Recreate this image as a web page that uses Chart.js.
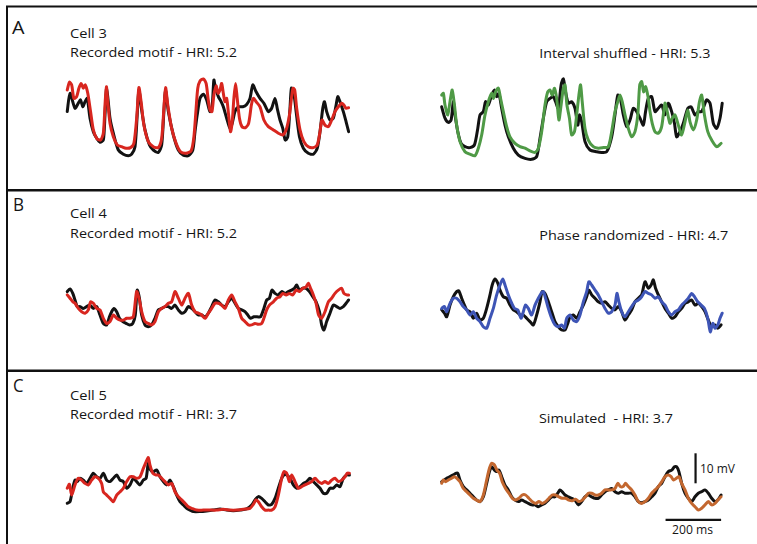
<!DOCTYPE html>
<html>
<head>
<meta charset="utf-8">
<script src="https://cdn.jsdelivr.net/npm/chart.js@4.4.1/dist/chart.umd.min.js"></script>
<style>
  html,body{margin:0;padding:0;background:#fff;}
  #fig{position:relative;width:757px;height:544px;overflow:hidden;background:#fff;}
  #fig svg{position:absolute;left:0;top:0;}
  .pane{position:absolute;}
  .lbl{font-family:"Open Sans",Lato,sans-serif;font-size:13.5px;fill:#151515;}
  .big{font-family:"Open Sans",Lato,sans-serif;font-size:17.5px;fill:#151515;}
  .sc{font-family:"Open Sans",Lato,sans-serif;font-size:12px;fill:#151515;}
</style>
</head>
<body>
<div id="fig">
  <svg width="757" height="544" xmlns="http://www.w3.org/2000/svg">
    <line x1="6" y1="6.5" x2="757" y2="6.5" stroke="#111" stroke-width="2"/>
    <line x1="7" y1="6" x2="7" y2="544" stroke="#111" stroke-width="2"/>
    <line x1="6" y1="190.3" x2="757" y2="190.3" stroke="#111" stroke-width="2.5"/>
    <line x1="6" y1="370.8" x2="757" y2="370.8" stroke="#111" stroke-width="2.5"/>
    <text class="big" x="12" y="33.5" textLength="12.5" lengthAdjust="spacingAndGlyphs">A</text>
    <text class="lbl" x="70" y="37.7" textLength="37" lengthAdjust="spacingAndGlyphs">Cell 3</text>
    <text class="lbl" x="70" y="57.3" textLength="167" lengthAdjust="spacingAndGlyphs">Recorded motif - HRI: 5.2</text>
    <text class="lbl" x="539.3" y="58" textLength="171" lengthAdjust="spacingAndGlyphs">Interval shuffled - HRI: 5.3</text>
    <text class="big" x="13" y="210.7" textLength="11" lengthAdjust="spacingAndGlyphs">B</text>
    <text class="lbl" x="70" y="218.3" textLength="37" lengthAdjust="spacingAndGlyphs">Cell 4</text>
    <text class="lbl" x="70" y="238" textLength="167" lengthAdjust="spacingAndGlyphs">Recorded motif - HRI: 5.2</text>
    <text class="lbl" x="539.3" y="240" textLength="189" lengthAdjust="spacingAndGlyphs">Phase randomized - HRI: 4.7</text>
    <text class="big" x="13" y="392.3" textLength="10.5" lengthAdjust="spacingAndGlyphs">C</text>
    <text class="lbl" x="70" y="400" textLength="37" lengthAdjust="spacingAndGlyphs">Cell 5</text>
    <text class="lbl" x="70" y="419.3" textLength="167" lengthAdjust="spacingAndGlyphs">Recorded motif - HRI: 3.7</text>
    <text class="lbl" x="539" y="423" xml:space="preserve" style="white-space:pre" textLength="134" lengthAdjust="spacingAndGlyphs">Simulated  - HRI: 3.7</text>
    <text class="sc" x="700" y="472.5" textLength="35" lengthAdjust="spacingAndGlyphs">10 mV</text>
    <text class="sc" x="672" y="533.5" textLength="41" lengthAdjust="spacingAndGlyphs">200 ms</text>
  </svg>
  <div class="pane" style="left:60px;top:65px;width:300px;height:100px"><canvas id="cAL" width="300" height="100"></canvas></div>
  <div class="pane" style="left:435px;top:65px;width:300px;height:100px"><canvas id="cAR" width="300" height="100"></canvas></div>
  <div class="pane" style="left:60px;top:275px;width:300px;height:70px"><canvas id="cBL" width="300" height="70"></canvas></div>
  <div class="pane" style="left:435px;top:265px;width:300px;height:80px"><canvas id="cBR" width="300" height="80"></canvas></div>
  <div class="pane" style="left:60px;top:445px;width:300px;height:75px"><canvas id="cCL" width="300" height="75"></canvas></div>
  <div class="pane" style="left:435px;top:440px;width:300px;height:100px"><canvas id="cCR" width="300" height="100"></canvas></div>
</div>
<script>
// ===== DATA (time in ms, membrane potential in mV, relative) =====
// Panel A, Cell 3 — recorded motif (black) vs recorded motif replay (red)
const aLeftBlackT = [2,12,30,42,50,58,66,74,84,96,108,120,132,138,144,156,168,186,204,222,234,246,254,260,270,282,298,312,330,342,350,356,366,384,402,420,438,454,462,470,480,492,504,516,524,530,536,546,556,564,576,588,596,606,618,634,648,660,670,682,696,710,726,738,750,758,768,778,787,796,804,809,816,826,838,852,870,888,902,912,922,928,936,948,960,970,976,984,996,1006,1015];
const aLeftBlackV = [17.8,23.9,18.9,20.6,21.7,19.4,21.1,22.2,15.6,11.1,8.9,7.6,8.3,16.7,25.6,15.6,10.6,5,3.6,3.1,3.6,6.1,16.7,25,18.3,11.7,6.7,5,4.2,6.7,17.8,25,17.8,10,5,3.3,3.1,5,11.1,16.7,22.2,23.6,21.7,17.8,20,28.3,25.6,22.8,21.1,19.4,15.6,12.2,13.9,17.8,19.4,19.4,20.2,22.2,26.7,24.4,22.2,20.6,17.8,18.9,22.2,18.9,15,12.2,8.3,9.4,18.9,25.6,25,17.8,9.4,5.6,3.9,3.6,5.6,11.1,18.9,21.1,17.8,15,15.6,20,22.8,21.1,17.8,14.4,11.1];
const aLeftRedT = [2,10,18,26,36,44,52,60,67,76,86,96,108,122,132,138,143,148,156,168,182,198,214,230,242,252,260,268,278,294,312,330,342,350,356,364,378,394,410,430,448,458,466,472,480,492,502,509,516,523,530,538,545,552,558,564,570,576,583,590,596,602,608,614,622,631,643,655,665,672,682,696,710,726,744,762,778,790,802,810,815,821,828,840,854,870,888,902,912,919,930,942,954,966,978,990,998,1006,1015];
const aLeftRedV = [25,27.6,26.7,22.2,22.8,25.6,27.2,25.6,26.7,23.9,17.8,11.7,8.9,8.3,10.6,20,26.1,21.1,13.9,9.4,6.7,6.1,5.6,5.8,7.2,15.6,25.8,21.1,13.3,7.8,6.1,5.8,8.9,18.9,25.8,20,12.2,7.2,4.4,3.9,4.7,9.4,18.9,25.6,28,28.7,27.2,22.2,18.3,17.8,23.3,26.4,23.9,25,27.2,23.9,21.1,22.2,16.7,11.1,14.4,22.2,27.2,22.2,15.6,12.8,12.4,13.9,20,22.2,21.1,19.4,15,12.8,11.7,10.6,10,11.7,16.7,22.8,25.6,25,18.9,11.7,7.8,6.1,5.8,6.7,11.1,15,13.3,12.8,15,17.8,19.4,20.6,20,18.9,19.1];
// Panel A — interval shuffled (green)
const aRightBlackT = [0,12,24,34,42,48,58,70,84,102,118,130,138,150,158,168,180,190,198,206,216,228,240,258,276,300,324,342,354,366,378,390,402,410,420,430,438,446,456,468,480,490,496,504,516,534,558,576,594,612,624,634,643,654,666,678,690,702,714,726,734,744,756,768,780,792,804,816,828,838,846,858,870,886,898,912,924,936,954,966,978,990,1002,1010];
const aRightBlackV = [19.4,15.6,14.2,15,21.1,16.7,11.1,7.2,6.1,5.8,6.7,12.2,16.7,17.8,21.1,20,23.3,25,22.8,23.9,18.9,13.3,9.4,5.6,3.3,2.2,1.9,2.8,8.9,15.6,21.1,22.2,22.8,21.1,18.9,26.7,28.7,24.4,20.6,21.1,18.9,13.3,16.7,14.4,7.8,5,4.4,4.2,4.4,9.4,16.7,23.3,22.2,16.7,12.8,15,18.9,17.8,15.6,13.3,17.8,22.2,22.8,17.8,18.9,20,16.7,20.6,17.8,13.9,9.4,11.1,13.9,18.9,19.4,16.7,17.8,17.8,21.7,20.6,13.9,12.2,15.6,20.6];
const aRightGreenT = [0,6,12,22,30,38,46,54,66,84,102,120,132,144,156,168,180,187,194,204,212,222,234,246,264,282,300,318,336,348,360,372,382,390,398,406,414,422,430,438,444,451,460,468,478,486,494,500,506,516,528,546,564,582,600,612,624,634,642,650,660,672,684,696,706,713,720,727,734,744,750,758,768,780,792,804,812,822,830,840,852,864,876,886,894,906,918,928,936,946,958,972,990,1006];
const aRightGreenV = [23.3,23.9,20,16.7,21.1,25,20,13.3,7.8,4.4,3.6,3.1,5.6,10,16.7,21.1,23.9,22.2,24.4,25.6,22.2,17.8,12.8,9.4,7.2,6.1,5.6,4.7,4.2,5.6,11.1,20,24.4,25,23.3,25.6,22.2,15,20,25.6,26.7,20,15.6,10,11.1,16.7,23.3,26.7,21.1,12.2,8.3,6.1,5.6,5.8,6.1,11.1,17.8,21.1,23.3,21.1,16.7,12.2,9.4,11.1,16.7,26.7,27.8,24.4,26.1,22.2,17.8,13.9,11.1,10.6,12.8,20.6,17.8,13.9,15.6,16.7,13.3,10,14.4,18.3,14.4,11.7,15,21.1,23.3,16.7,11.1,8.3,6.1,7.2];
// Panel B, Cell 4
const bLeftBlackT = [2,12,22,30,38,48,60,72,84,96,108,120,132,144,154,162,170,180,190,202,214,226,238,247,254,262,270,282,294,306,318,330,342,354,366,378,390,402,414,426,438,450,462,474,486,498,510,522,534,546,558,570,582,594,606,618,630,642,652,662,674,686,698,710,720,730,739,750,762,774,786,798,810,820,828,838,850,862,874,886,898,910,918,926,936,948,960,972,984,996,1006,1015];
const bLeftBlackV = [17.8,18.7,17.2,15,12.8,12.8,12.2,12.8,13.3,12.2,12.8,10,7.2,6.7,9.4,11.1,12.2,11.1,8.9,7.8,7.2,6.7,7.2,10,18.3,15.6,10,6.7,6.1,6.7,8.9,11.7,12.2,12.8,12.8,12.2,13.3,11.7,10.6,11.1,12.8,12.2,11.1,10,10,9.4,10.6,12.8,15,14.4,13.3,12.8,14.4,15.6,13.9,12.2,11.7,11.1,10,8.9,9.4,9.4,9.4,12.2,15,15.6,18.3,17.2,16.7,17.8,17.2,17.8,18.3,18.9,20,18.3,18.9,18.9,17.8,16.1,14.4,11.1,6.7,5,7.8,10.6,13.3,12.8,12.2,12.8,13.9,15];
const bLeftRedT = [2,12,22,30,42,54,66,78,86,96,108,120,132,144,156,168,180,192,204,216,228,240,252,262,270,282,294,306,318,330,342,354,366,378,390,402,414,426,438,450,462,474,486,498,510,522,534,546,558,570,582,594,606,618,630,642,654,666,678,690,702,710,720,730,744,756,768,778,790,802,814,826,838,850,862,870,878,888,898,907,918,930,942,954,966,978,990,998,1008,1015];
const bLeftRedV = [16.7,15.6,14.4,13.9,12.2,11.1,10.6,11.7,14.4,13.9,12.2,11.7,8.9,7.2,7.8,10,8.9,8.3,8.3,8.9,8.9,9.4,17.8,15,11.1,7.8,7.2,6.7,7.8,11.1,12.2,12.8,13.9,14.4,17.8,15.6,13.3,15.6,17.2,13.3,11.1,10.6,10,8.9,10.6,12.2,13.9,13.9,13.3,12.2,15,16.7,14.4,12.2,8.9,7.8,6.7,6.7,7.2,6.9,7.2,8.9,11.7,13.3,14.4,15.6,16.1,17.2,16.7,17.2,16.7,18.3,17.8,18.9,19.4,20.6,18.9,16.7,13.9,10,8.9,11.1,14.4,15.6,17.2,18.3,18.9,17.2,16.7,16.7];
const bRightBlackT = [0,10,18,30,42,54,62,72,82,90,102,114,126,138,150,162,174,182,192,202,210,222,234,246,258,270,282,294,306,318,330,342,354,362,372,384,396,408,420,432,444,454,462,474,486,498,510,522,530,540,552,564,576,588,600,612,624,636,648,660,672,684,696,708,720,732,744,754,762,770,780,792,804,816,828,840,852,864,876,888,900,912,924,936,948,960,972,984,994,1006];
const bRightBlackV = [11.7,10.6,9.4,13.3,16.1,17.8,18,15.6,13.3,11.7,11.1,8.9,10.6,8.3,8.9,12.2,16.7,20,22,20.6,18.3,16.1,15.6,13.3,11.7,11.1,10,10,8.9,7.8,6.7,10,14.4,17.8,17.2,14.4,11.1,7.8,6.1,5,5,7.2,9.4,10,8.9,11.1,13.3,16.1,18.3,16.7,15.6,14.4,13.9,14.4,13.3,12.2,11.7,12.8,11.1,8.3,10,11.7,14.4,15.6,16.7,21.1,18.9,20,21.7,18.9,16.7,14.4,12.2,10.6,8.9,9.4,11.1,12.2,13.9,14.4,15,13.3,13.9,12.8,11.1,8.3,6.1,6.7,5.6,6.7];
const bRightBlueT = [0,10,18,30,42,54,66,78,90,102,114,126,138,150,162,174,186,198,210,220,228,238,250,262,274,286,294,302,312,324,336,348,358,366,374,384,396,408,420,432,442,450,462,474,486,498,510,522,530,540,552,564,576,588,600,612,624,631,638,648,660,672,684,696,708,720,732,744,756,768,780,792,804,816,828,840,852,864,876,888,900,910,922,934,946,958,967,976,984,994,1002,1010];
const bRightBlueV = [12.2,12.8,11.1,13.9,15.6,15.6,14.4,12.8,11.7,10,11.1,8.9,7.8,6.1,5.6,8.9,12.2,16.7,20,22,20,17.2,14.4,12.2,11.7,8.9,11.1,13.3,12.2,10,13.3,15.6,17.2,17.8,15.6,12.2,8.9,6.7,6.1,6.7,5.6,8.9,10,8.3,7.8,10,14.4,17.8,21.1,20,18.3,16.7,14.4,12.2,10.6,11.1,13.3,17.2,14.4,11.1,9.4,11.1,12.8,14.4,15,16.1,17.8,17.2,16.7,15.6,16.1,14.4,13.3,11.1,10,11.1,11.7,13.3,14.4,15.6,17.2,16.1,14.4,13.3,12.2,8.9,4.4,7.2,5.6,6.7,8.9,10.6];
// Panel C, Cell 5
const cLeftBlackT = [2,12,22,30,38,48,60,72,84,96,108,120,132,144,156,168,180,192,204,216,228,240,252,264,276,286,294,302,312,324,336,348,360,372,384,396,408,420,432,444,456,480,504,528,552,576,600,624,648,666,678,690,702,714,726,738,750,762,774,782,792,804,816,828,840,852,864,876,888,900,912,924,936,948,960,972,984,996,1008,1018];
const cLeftBlackV = [5.6,6.1,10.6,13.3,12.8,13.9,13.3,12.2,13.9,15.6,14.4,13.9,15.6,13.3,12.8,13.9,15,13.3,12.8,10.6,11.7,13.9,12.8,11.7,13.3,13.9,18.9,16.7,16.1,16.7,14.4,12.8,11.7,13.3,11.1,8.3,6.1,5,3.9,3.3,2.8,2.8,3,3.3,3.7,3.3,3.1,3.3,3.7,5,6.7,7.8,7.2,6.1,5,5.2,7.2,10.6,13.9,15,15,13.9,11.7,10.6,11.1,12.2,12.8,13.9,12.8,11.7,10.6,8.9,8.9,10.6,10.6,11.7,11.1,13.9,15,15];
const cLeftRedT = [2,10,18,30,42,54,66,78,90,102,114,126,132,144,156,168,180,192,204,216,228,240,252,264,276,286,294,300,310,322,330,342,354,366,378,390,402,414,426,438,450,468,492,516,540,564,588,612,636,660,672,682,690,702,714,726,738,750,762,774,782,792,802,810,822,834,846,858,870,882,894,906,918,930,942,954,966,978,990,1002,1010,1018];
const cLeftRedV = [10.6,11.9,8.3,11.7,13.9,13.3,12.2,11.7,13.3,14.4,13.9,12.2,9.4,8.3,7.2,6.1,8.3,9.4,10.6,12.8,14.4,14.4,13.9,14.4,17.2,19.4,20.8,18.3,15.6,15,15,13.9,12.8,11.7,12.2,9.4,7.8,6.7,5.6,4.4,3.9,3.3,3.3,3.3,3.3,3.6,3.3,3.3,3.6,3.9,5.2,6.7,6.1,4.4,3.3,3.3,3.3,4.4,8.3,13.9,16.1,15.6,12.8,15,12.8,10.6,11.1,11.7,12.2,12.8,13.9,12.8,12.2,12.8,12.2,13.3,13.9,12.8,13.3,14.4,15.6,15.6];
const cRightBlackT = [0,10,18,30,42,50,58,66,78,90,102,114,126,138,150,162,172,180,190,198,206,216,228,240,252,264,276,288,300,312,324,336,348,360,372,384,396,408,418,426,434,444,456,468,480,492,504,516,528,540,552,564,576,588,600,612,624,636,648,660,672,684,696,708,720,732,744,756,768,780,792,804,816,828,838,846,854,864,876,888,900,912,924,936,948,960,972,984,994,1006];
const cRightBlackV = [19.4,20,20.6,21.1,21.7,22.2,22.2,20,17.8,16.7,15.6,14.4,13.3,12.8,14.4,18.9,22.8,24.4,23.3,22.8,23.3,21.1,18.3,16.7,14.4,13.3,12.8,13.3,12.8,12.2,11.7,11.7,11.1,11.7,12.2,13.3,14.4,14.4,15.6,16.7,16.1,15,14.4,13.9,13.3,11.7,12.8,14.4,15,14.4,13.9,13.9,15,16.1,16.7,17.2,16.1,15.6,16.1,15.6,15.6,15.6,14.4,12.8,12.4,12.8,13.3,14.4,15.6,17.8,18.9,21.1,22.8,23.3,24.4,24.4,22.8,18.9,15.6,13.9,12.8,14.4,15.6,16.1,16.7,15.6,13.9,12.8,13.3,15];
const cRightOrangeT = [0,6,14,24,36,46,54,66,78,90,102,114,126,138,150,162,172,180,190,199,209,218,230,242,254,266,278,290,302,314,326,338,350,362,374,386,398,410,422,434,446,458,470,482,494,506,518,528,540,552,564,576,588,600,612,624,634,643,653,662,672,684,696,708,720,732,744,756,768,780,792,804,816,826,835,845,854,864,876,888,900,912,924,936,948,960,972,984,994,1006];
const cRightOrangeV = [18.9,20,19.4,20,20.6,21.1,20.6,19.4,17.2,16.1,15,13.9,13.3,12.8,15,20,23.9,25.6,25,23.3,22.2,19.4,17.2,15.6,13.9,13.3,13.9,15,15,13.9,12.8,12.2,12.8,12.2,12.8,13.9,15,15,14.4,13.9,13.9,13.3,13.1,13.6,12.8,13.3,14.4,15.6,15.6,15,15,15.6,16.7,16.7,16.7,17.2,18.9,17.8,17.8,18.9,17.8,16.7,15,12.8,12.2,12.8,13.9,15.6,16.7,17.8,19.4,21.1,21.7,21.1,20,20.6,21.1,18.9,16.7,13.9,12.2,11.1,10,10.6,11.7,12.8,11.7,12.2,13.3,14.4];
// Scale bars: 10 mV and 200 ms
const scaleMvT = [914, 914];
const scaleMvV = [18.9, 28.9];
const scaleMsT = [806, 1006];
const scaleMsV = [6.7, 6.7];

// ===== STYLE =====
const BLACK = '#121212', RED = '#d8261f', GREEN = '#4f9a46', BLUE = '#3e55b6', ORANGE = '#c3672f';
const T_MIN = -24, T_MAX = 1056;

function pts(t, v) { return t.map((x, i) => ({x: x, y: v[i]})); }
function trace(t, v, color, order, width) {
  return {data: pts(t, v), borderColor: color, backgroundColor: color, order: order,
          borderWidth: width || 3, pointRadius: 0, tension: 0.25, clip: false, fill: false,
          borderJoinStyle: 'round', borderCapStyle: 'round'};
}
function panel(id, yMax, datasets) {
  new Chart(document.getElementById(id), {
    type: 'line',
    data: {datasets: datasets},
    options: {
      responsive: false, animation: false, events: [],
      layout: {padding: 0},
      plugins: {legend: {display: false}, tooltip: {enabled: false}, title: {display: false}},
      scales: {
        x: {type: 'linear', min: T_MIN, max: T_MAX, display: false},
        y: {type: 'linear', min: 0, max: yMax, display: false}
      }
    }
  });
}

panel('cAL', 100/3, [trace(aLeftRedT, aLeftRedV, RED, 0), trace(aLeftBlackT, aLeftBlackV, BLACK, 1)]);
panel('cAR', 100/3, [trace(aRightGreenT, aRightGreenV, GREEN, 0), trace(aRightBlackT, aRightBlackV, BLACK, 1)]);
panel('cBL', 70/3, [trace(bLeftRedT, bLeftRedV, RED, 0), trace(bLeftBlackT, bLeftBlackV, BLACK, 1)]);
panel('cBR', 80/3, [trace(bRightBlueT, bRightBlueV, BLUE, 0), trace(bRightBlackT, bRightBlackV, BLACK, 1)]);
panel('cCL', 75/3, [trace(cLeftRedT, cLeftRedV, RED, 0), trace(cLeftBlackT, cLeftBlackV, BLACK, 1)]);
panel('cCR', 100/3, [
  trace(cRightOrangeT, cRightOrangeV, ORANGE, 0),
  trace(cRightBlackT, cRightBlackV, BLACK, 1),
  Object.assign(trace(scaleMvT, scaleMvV, BLACK, 2, 2.2), {tension: 0, borderCapStyle: 'butt'}),
  Object.assign(trace(scaleMsT, scaleMsV, BLACK, 2, 2.2), {tension: 0, borderCapStyle: 'butt'})
]);
</script>
</body>
</html>
